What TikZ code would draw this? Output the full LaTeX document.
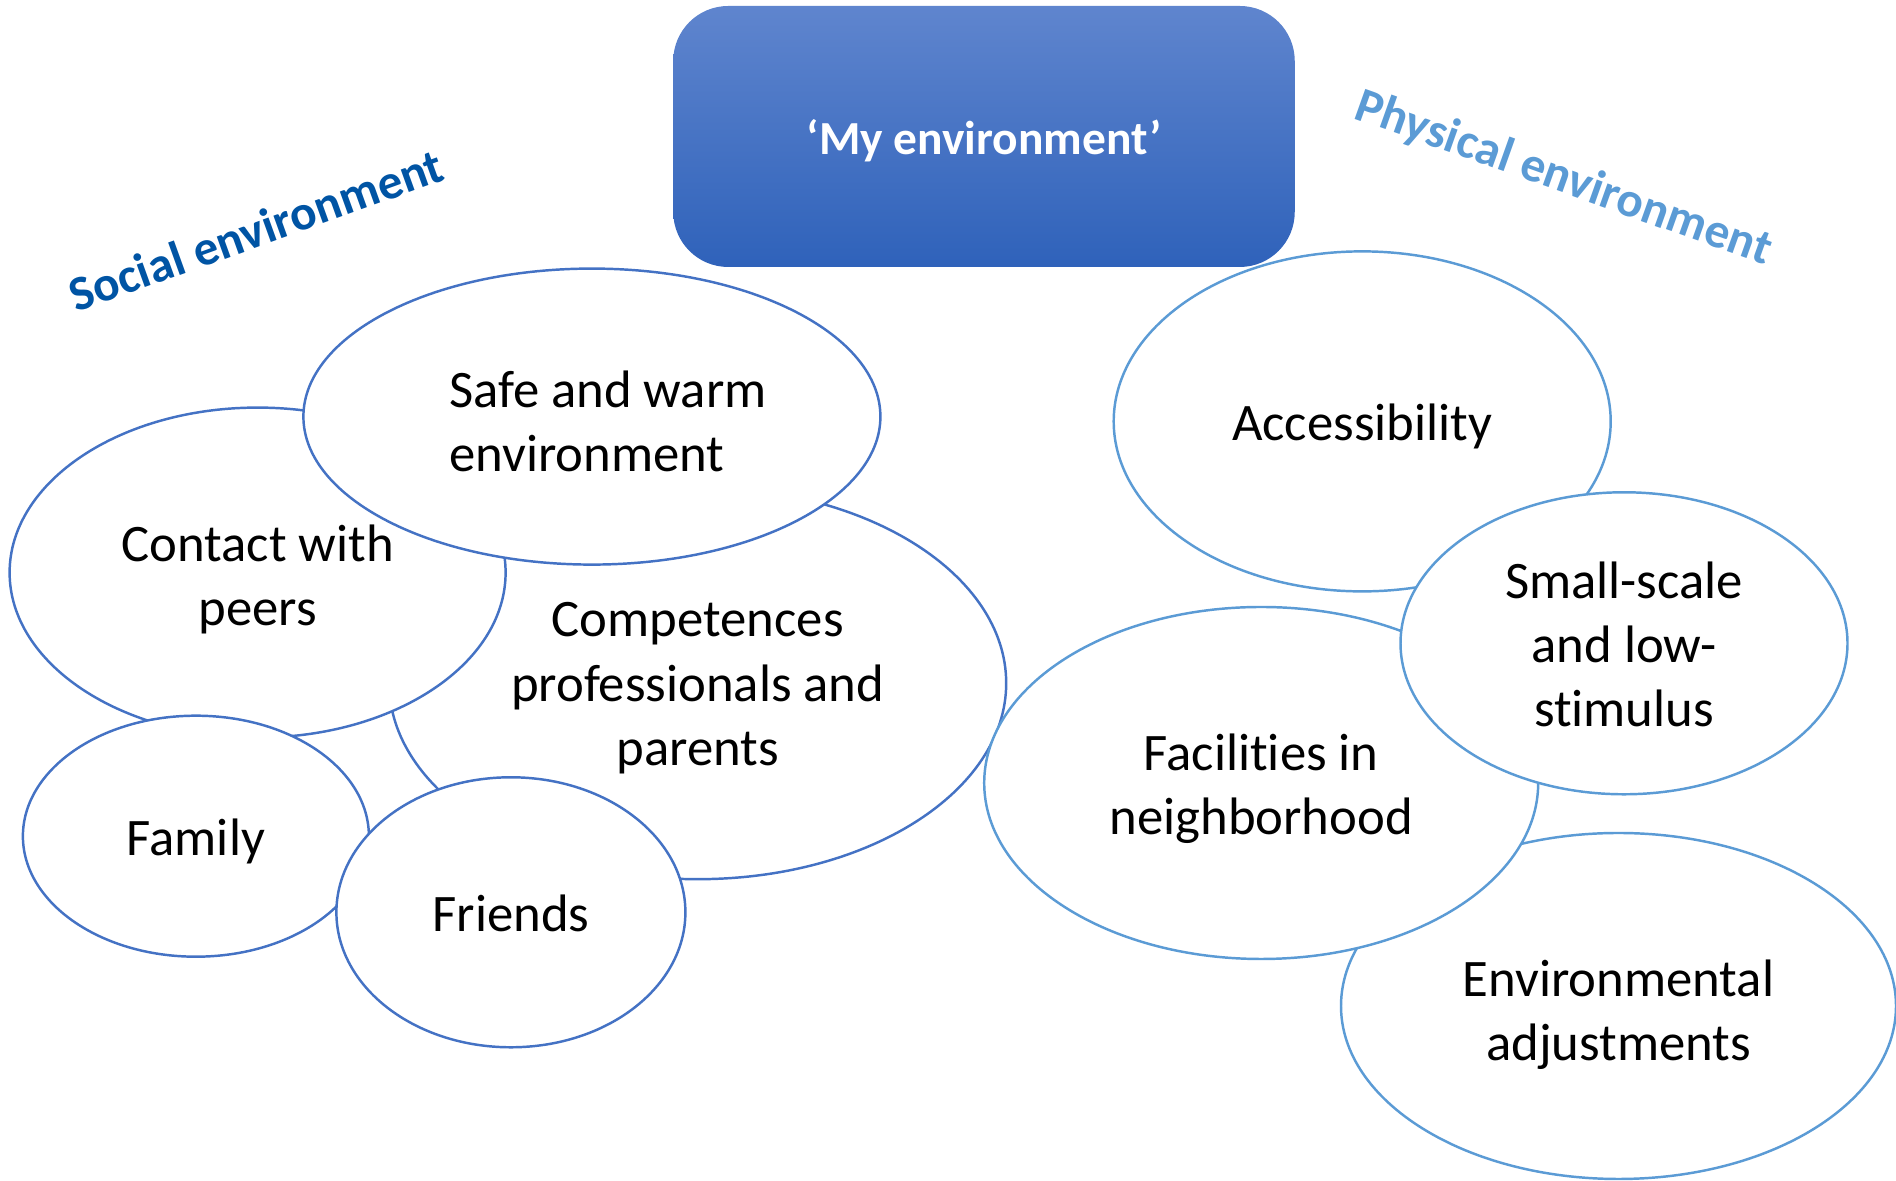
\documentclass[tikz,border=0pt]{standalone}
\usepackage{fontspec}
\setmainfont{Carlito}[Ligatures=NoCommon]
\usepackage{tikz}
\usetikzlibrary{shapes.geometric,positioning}

\definecolor{socialline}{HTML}{4472C4}
\definecolor{physline}{HTML}{5B9BD5}
\definecolor{socialtext}{HTML}{0054A4}
\definecolor{boxtop}{HTML}{5F85CE}
\definecolor{boxbottom}{HTML}{2F62BA}

\tikzset{
  bubble/.style 2 args={ellipse, draw, fill=white, line width=0.7pt,
    minimum width=#1, minimum height=#2, inner sep=0pt},
  socialbubble/.style 2 args={bubble={#1}{#2}, draw=socialline},
  physbubble/.style 2 args={bubble={#1}{#2}, draw=physline},
  bubbletext/.style={align=center, inner sep=0pt, font=\fontsize{15}{18.3}\selectfont},
  sidelabel/.style={font=\fontsize{14}{16}\selectfont\bfseries}
}

\begin{document}
\begin{tikzpicture}
  \useasboundingbox (0,0) rectangle (18.96,11.81);

  \node[socialbubble={6.17cm}{3.92cm}] (comp) at (6.977, 4.978) {};
  \node[bubbletext] (comptext) at ([yshift=-0.05cm]comp.center) {Competences\\professionals and\\parents};
  \node[socialbubble={4.96cm}{3.30cm}] (peers) at (2.576, 6.084) {};
  \node[bubbletext] (peerstext) at ([yshift=-0.07cm]peers.center) {Contact with\\peers};
  \node[socialbubble={5.77cm}{2.96cm}] (safe) at (5.919, 7.644) {};
  \node[bubbletext, align=left] (safetext) at ([xshift=0.16cm, yshift=-0.05cm]safe.center) {Safe and warm\\environment};
  \node[socialbubble={3.46cm}{2.41cm}] (family) at (1.959, 3.448) {};
  \node[bubbletext] (familytext) at ([yshift=-0.05cm]family.center) {Family};
  \node[socialbubble={3.49cm}{2.70cm}] (friends) at (5.109, 2.687) {};
  \node[bubbletext] (friendstext) at ([yshift=-0.01cm]friends.center) {Friends};

  \node[physbubble={5.55cm}{3.46cm}] (adjust) at (16.185, 1.75) {};
  \node[bubbletext] (adjusttext) at ([yshift=-0.085cm]adjust.center) {Environmental\\adjustments};
  \node[physbubble={5.54cm}{3.52cm}] (facil) at (12.612, 3.98) {};
  \node[bubbletext] (faciltext) at ([yshift=-0.06cm]facil.center) {Facilities in\\neighborhood};
  \node[physbubble={4.97cm}{3.40cm}] (access) at (13.622, 7.596) {};
  \node[bubbletext] (accesstext) at ([yshift=-0.05cm]access.center) {Accessibility};
  \node[physbubble={4.47cm}{3.02cm}] (small) at (16.24, 5.377) {};
  \node[bubbletext] (smalltext) at ([yshift=-0.01cm]small.center) {Small-scale\\and low-\\stimulus};

  \node[rectangle, rounded corners=0.55cm, top color=boxtop, bottom color=boxbottom,
        minimum width=6.215cm, minimum height=2.61cm] (mine) at (9.84, 10.445) {};
  \node[text=white, font=\fontsize{13.5}{16}\selectfont\bfseries] (minetext)
        at ([yshift=-0.04cm]mine.center) {‘My environment’};

  \node[sidelabel, text=socialtext, rotate=19.8] (social) at (2.56, 9.51) {Social environment};
  \node[sidelabel, text=physline, rotate=-19.6] (physical) at (15.635, 10.02) {Physical environment};
\end{tikzpicture}
\end{document}
